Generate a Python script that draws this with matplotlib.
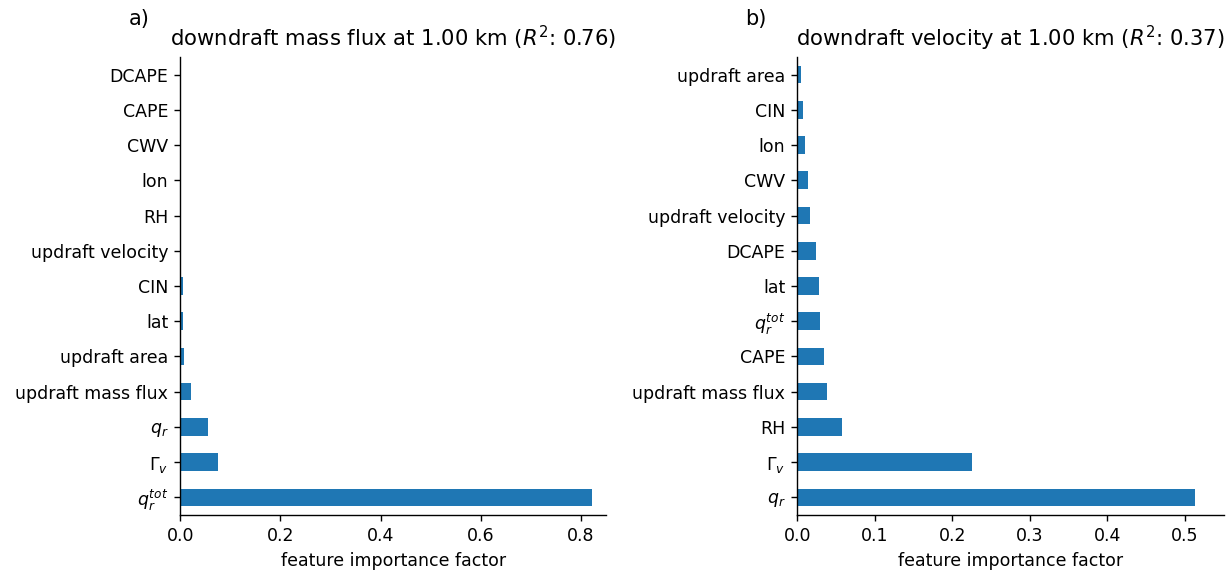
import matplotlib
matplotlib.use("Agg")
import matplotlib.pyplot as plt
import numpy as np

plt.rcParams["font.family"] = ["DejaVu Sans"]
plt.rcParams["mathtext.fontset"] = "dejavusans"

labels_a = ["$q_r^{tot}$", r"$\Gamma_v$", "$q_r$", "updraft mass flux", "updraft area",
            "lat", "CIN", "updraft velocity", "RH", "lon", "CWV", "CAPE", "DCAPE"]
values_a = [0.8226, 0.0753, 0.0553, 0.0214, 0.0074, 0.0054, 0.0052, 0.0018, 0.0017,
            0.0015, 0.0010, 0.0005, 0.0003]

labels_b = ["$q_r$", r"$\Gamma_v$", "RH", "updraft mass flux", "CAPE", "$q_r^{tot}$",
            "lat", "DCAPE", "updraft velocity", "CWV", "lon", "CIN", "updraft area"]
values_b = [0.5128, 0.2254, 0.0577, 0.0380, 0.0345, 0.0293, 0.0280, 0.0241, 0.0164,
            0.0138, 0.0099, 0.0070, 0.0048]

title_a = "downdraft mass flux at 1.00 km ($R^2$: 0.76)"
title_b = "downdraft velocity at 1.00 km ($R^2$: 0.37)"

DPI = 125
fig = plt.figure(figsize=(1232 / DPI, 571 / DPI), dpi=DPI)
ax1 = fig.add_axes([0.1464, 0.0981, 0.3458, 0.8021])
ax2 = fig.add_axes([0.6472, 0.0981, 0.3463, 0.8021])

for ax, labels, values, title, xmax, letter in [
        (ax1, labels_a, values_a, title_a, 0.851, "a)"),
        (ax2, labels_b, values_b, title_b, 0.5506, "b)")]:
    y = np.arange(len(labels))
    ax.barh(y, values, height=0.5, color="#1f77b4")
    ax.set_yticks(y)
    ax.set_yticklabels(labels, fontsize=10)
    ax.set_ylim(-0.5, len(labels) - 0.5)
    ax.set_xlim(0, xmax)
    ax.tick_params(axis="x", labelsize=10)
    ax.set_xlabel("feature importance factor", fontsize=10)
    ax.set_title(title, fontsize=12.2)
    ax.spines["top"].set_visible(False)
    ax.spines["right"].set_visible(False)
    ax.text(-0.122, 1.07, letter, transform=ax.transAxes, fontsize=12)

fig.savefig("out.png", dpi=DPI)
